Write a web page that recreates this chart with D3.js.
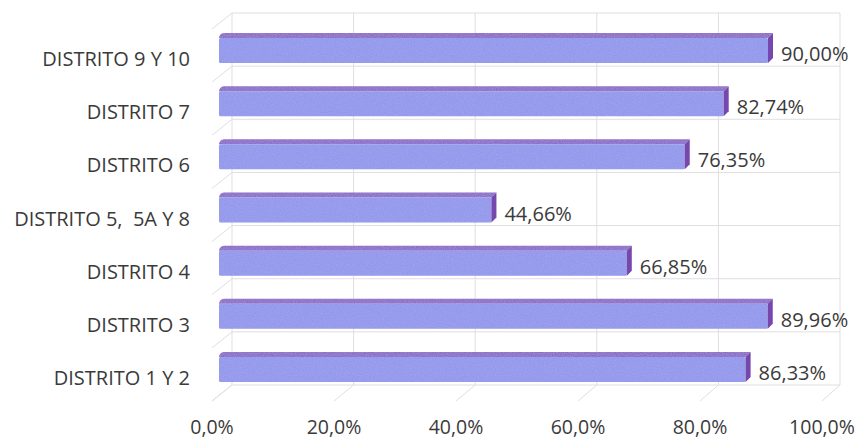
<!DOCTYPE html>
<html>
<head>
<meta charset="utf-8">
<script src="https://cdn.jsdelivr.net/npm/d3@7"></script>
<style>
html,body{margin:0;padding:0;background:#fff;}
svg{display:block;}
text{font-family:"Open Sans",sans-serif;fill:#3a3a3a;}
</style>
</head>
<body>
<svg id="chart" width="860" height="441"></svg>
<script>
// ---- data ----
const categories = ["DISTRITO 9 Y 10","DISTRITO 7","DISTRITO 6","DISTRITO 5,  5A Y 8","DISTRITO 4","DISTRITO 3","DISTRITO 1 Y 2"];
const values = [90.00, 82.74, 76.35, 44.66, 66.85, 89.96, 86.33];
const valueLabels = ["90,00%","82,74%","76,35%","44,66%","66,85%","89,96%","86,33%"];
const tickValues = [0, 20, 40, 60, 80, 100];
const tickLabels = ["0,0%","20,0%","40,0%","60,0%","80,0%","100,0%"];

// ---- geometry ----
const svg = d3.select("#chart");
const xFront = d3.scaleLinear().domain([0,100]).range([219, 829]);   // bar front faces
const xBack  = d3.scaleLinear().domain([0,100]).range([232, 840]);   // back wall
const xFloor = d3.scaleLinear().domain([0,100]).range([212, 822]);   // floor front edge
const yBack  = d3.scaleLinear().domain([0,7]).range([13, 385]);      // back wall rows
const y = d3.scaleBand().domain(categories).range([24, 396]).paddingInner(0.53).paddingOuter(0.263);
const depthX = -20, depthY = 16;    // back -> front offset of walls
const bx = 5, by = -5;              // bar depth (front -> back)

// defs: subtle noise to mimic the scanned texture
const defs = svg.append("defs");
const f = defs.append("filter").attr("id","grain").attr("x",0).attr("y",0).attr("width",1).attr("height",1);
f.append("feTurbulence").attr("type","fractalNoise").attr("baseFrequency",0.9).attr("numOctaves",2).attr("seed",3).attr("result","n");
f.append("feColorMatrix").attr("in","n").attr("type","matrix")
  .attr("values","0 0 0 0 0.55  0 0 0 0 0.5  0 0 0 0 0.85  0 0 0 0.45 -0.1").attr("result","nc");
f.append("feComposite").attr("in","nc").attr("in2","SourceGraphic").attr("operator","in").attr("result","nm");
f.append("feMerge").selectAll("feMergeNode").data(["SourceGraphic","nm"]).join("feMergeNode").attr("in",d=>d);

const grid = svg.append("g").attr("stroke","#e2dde3").attr("stroke-width",1).attr("fill","none");
// back wall vertical gridlines
grid.selectAll(".vg").data(tickValues).join("line")
  .attr("x1",d=>xBack(d)).attr("x2",d=>xBack(d)).attr("y1",yBack(0)).attr("y2",yBack(7));
// back wall horizontal lines (category boundaries)
const rows = d3.range(0,8);
grid.selectAll(".hg").data(rows).join("line")
  .attr("x1",xBack(0)).attr("x2",xBack(100)).attr("y1",d=>yBack(d)).attr("y2",d=>yBack(d));
// left wall diagonals
grid.selectAll(".lw").data(rows).join("line")
  .attr("x1",xBack(0)).attr("y1",d=>yBack(d))
  .attr("x2",xBack(0)+depthX).attr("y2",d=>yBack(d)+depthY);
// floor diagonals
grid.selectAll(".fl").data(tickValues).join("line")
  .attr("x1",d=>xBack(d)).attr("y1",yBack(7))
  .attr("x2",d=>xFloor(d)).attr("y2",yBack(7)+depthY);

// bars
const bars = svg.append("g").selectAll("g").data(categories).join("g");
const h = y.bandwidth();
// top face
bars.append("path")
  .attr("d",(d,i)=>{
    const x0=xFront(0), x1=xFront(values[i]), yt=y(d);
    return `M${x0},${yt} C${x0},${yt-2} ${x0+2},${yt+by} ${x0+bx},${yt+by} L${x1+bx},${yt+by} L${x1},${yt} Z`;
  })
  .attr("fill","#8a6cc6").attr("filter","url(#grain)");
// front face
bars.append("rect")
  .attr("x",xFront(0)).attr("y",d=>y(d))
  .attr("width",(d,i)=>xFront(values[i])-xFront(0)).attr("height",h)
  .attr("rx",1.5)
  .attr("fill","#9097ec").attr("filter","url(#grain)");
// side face
bars.append("path")
  .attr("d",(d,i)=>{
    const x1=xFront(values[i]), yt=y(d);
    return `M${x1},${yt} L${x1+bx},${yt+by} L${x1+bx},${yt+h+by} L${x1},${yt+h} Z`;
  })
  .attr("fill","#7647ad");

// value labels
bars.append("text")
  .attr("x",(d,i)=>xFront(values[i])+bx+8)
  .attr("y",d=>y(d)+h/2+3)
  .attr("dominant-baseline","central")
  .attr("font-size",20)
  .text((d,i)=>valueLabels[i]);

// category labels
svg.append("g").selectAll("text").data(categories).join("text")
  .attr("x",190).attr("y",d=>y(d)+h/2+8)
  .attr("text-anchor","end").attr("dominant-baseline","central")
  .attr("font-size",20).attr("xml:space","preserve")
  .style("white-space","pre")
  .text(d=>d);

// value axis tick labels
svg.append("g").selectAll("text").data(tickValues).join("text")
  .attr("x",d=>xFloor(d)).attr("y",434)
  .attr("text-anchor","middle")
  .attr("font-size",19.5)
  .text((d,i)=>tickLabels[i]);
</script>
</body>
</html>
